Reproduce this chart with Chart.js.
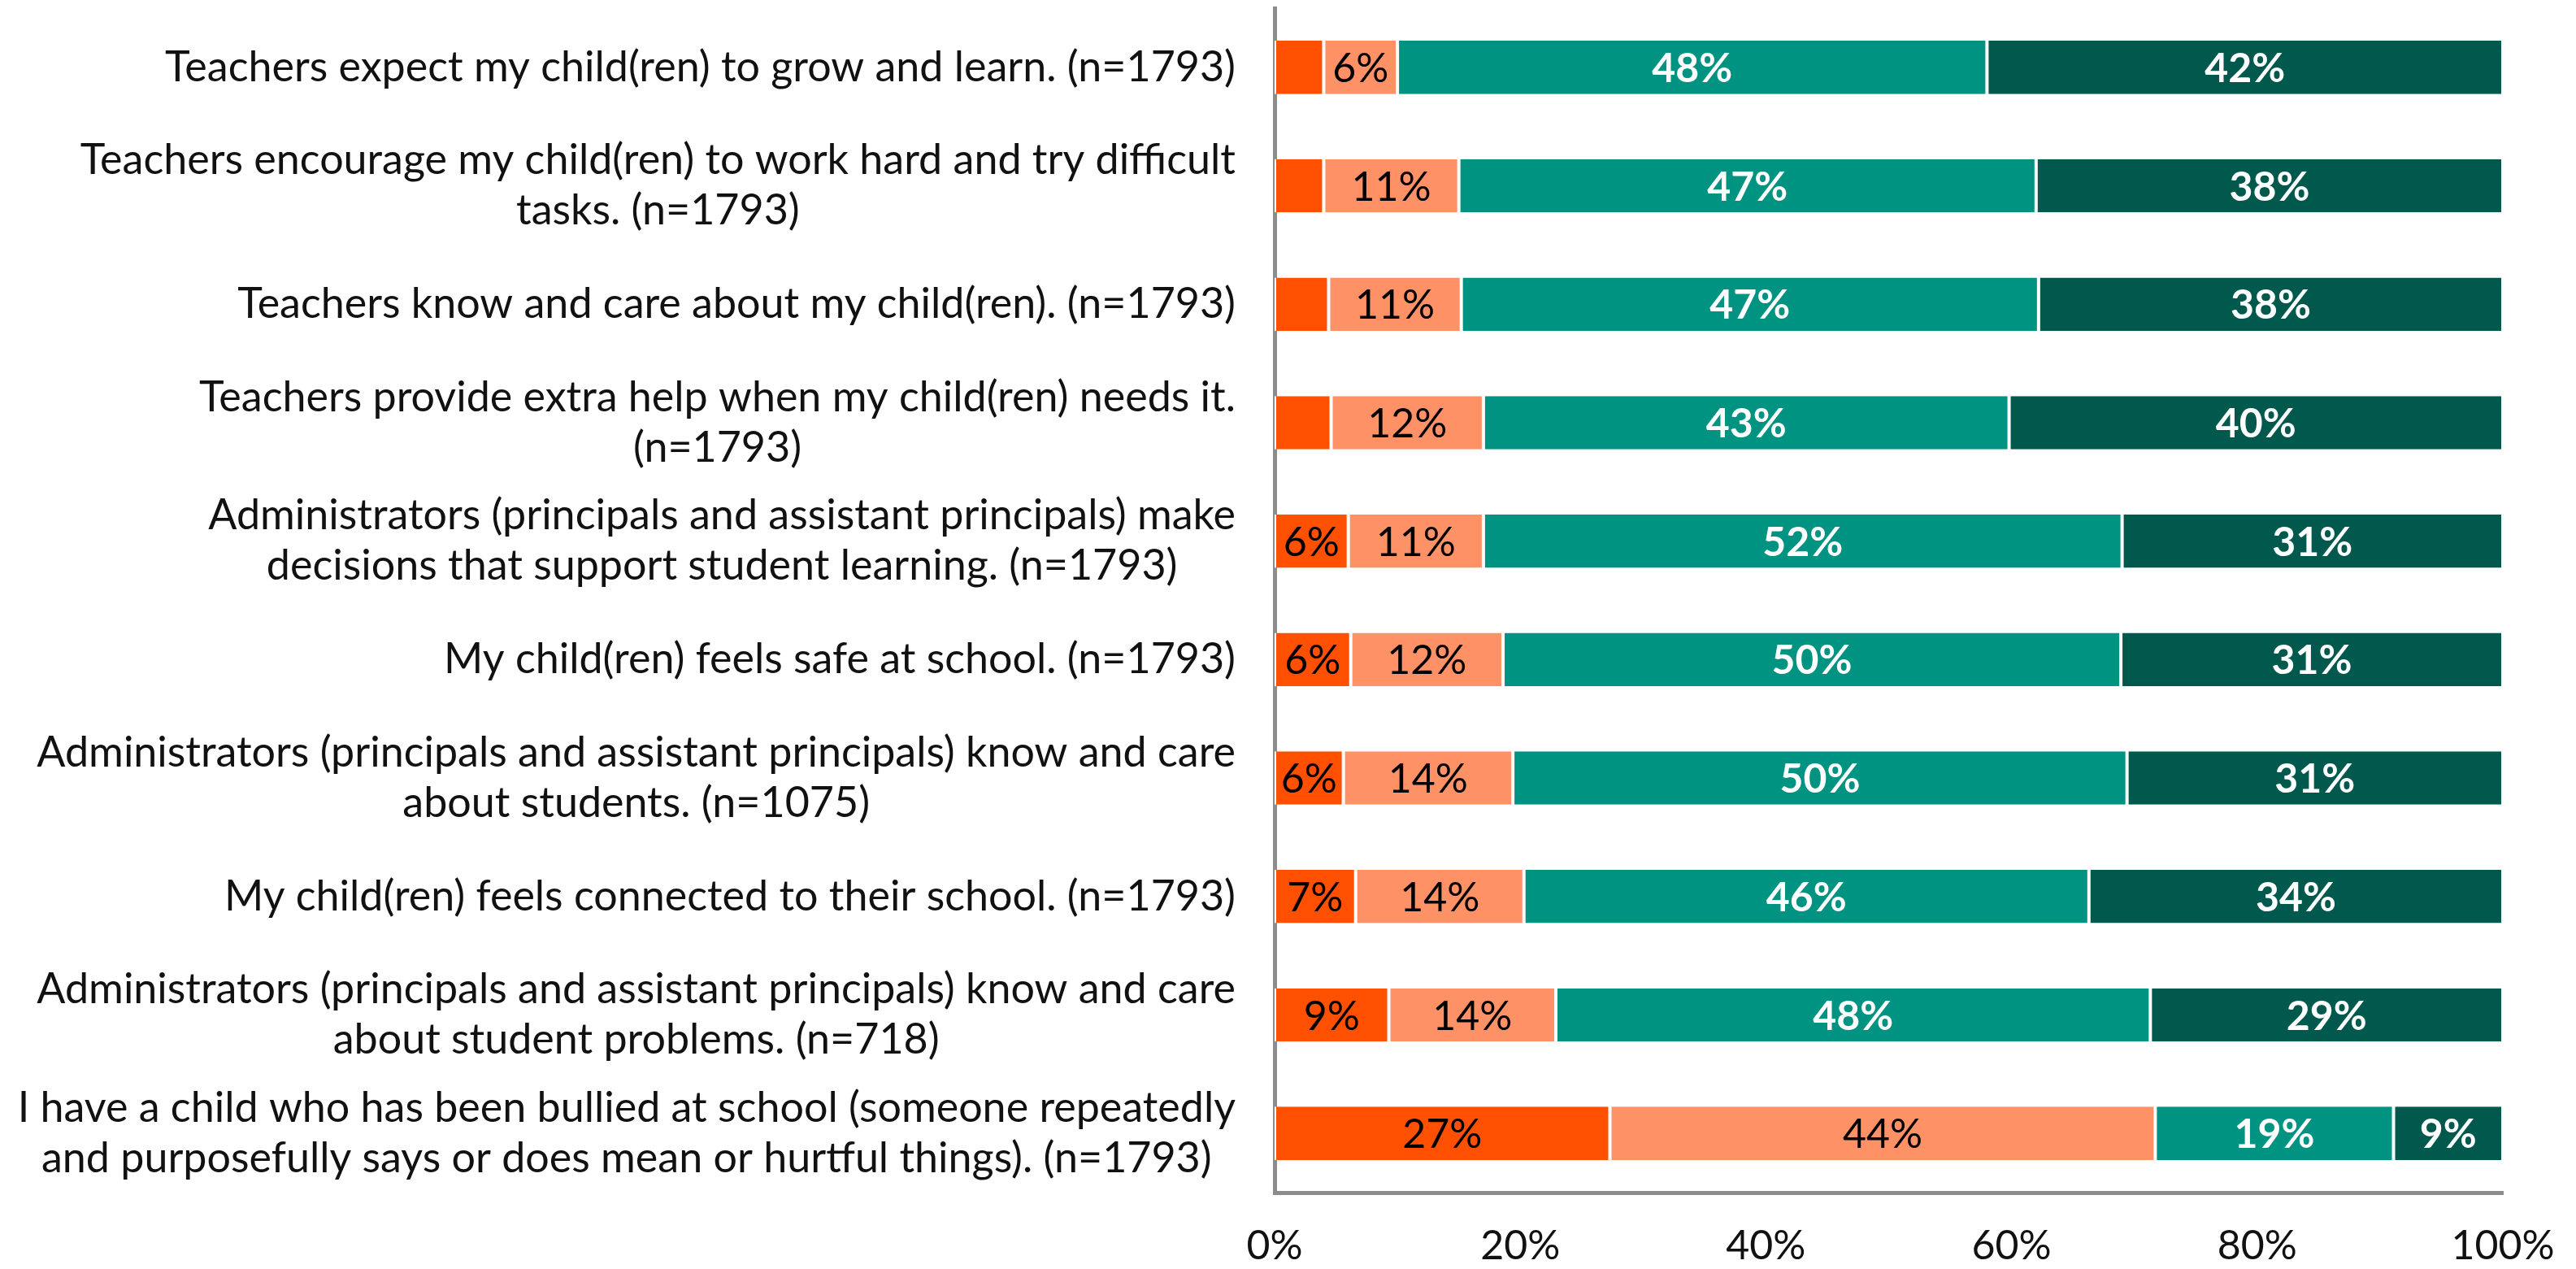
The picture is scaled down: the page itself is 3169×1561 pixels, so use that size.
<!DOCTYPE html>
<html lang="en">
<head>
    <meta charset="UTF-8">
    <title>Parent Survey Results</title>
    <script src="https://cdn.jsdelivr.net/npm/chart.js"></script>
    <style>
        body {
            margin: 0;
            background-color: #ffffff;
        }
        .chart-box {
            width: 3169px;
            height: 1561px;
            position: relative;
        }
    </style>
</head>
<body>
    <div class="chart-box">
        <canvas id="surveyChart"></canvas>
    </div>

    <script>
        const statements = [
            ['Teachers expect my child(ren) to grow and learn. (n=1793)'],
            ['Teachers encourage my child(ren) to work hard and try difficult', 'tasks. (n=1793)'],
            ['Teachers know and care about my child(ren). (n=1793)'],
            ['Teachers provide extra help when my child(ren) needs it.', '(n=1793)'],
            ['Administrators (principals and assistant principals) make', 'decisions that support student learning. (n=1793)'],
            ['My child(ren) feels safe at school. (n=1793)'],
            ['Administrators (principals and assistant principals) know and care', 'about students. (n=1075)'],
            ['My child(ren) feels connected to their school. (n=1793)'],
            ['Administrators (principals and assistant principals) know and care', 'about student problems. (n=718)'],
            ['I have a child who has been bullied at school (someone repeatedly', 'and purposefully says or does mean or hurtful things). (n=1793)']
        ];

        // percent of responses per answer level, one value per statement
        const stronglyDisagree = [4, 4, 4.4, 4.6, 6, 6.2, 5.6, 6.6, 9.3, 27.3];
        const disagree         = [6, 11, 10.8, 12.4, 11, 12.4, 13.8, 13.7, 13.6, 44.4];
        const agree            = [48, 47, 47, 42.8, 52, 50.3, 50.0, 46.0, 48.4, 19.4];
        const stronglyAgree    = [42, 38, 37.8, 40.2, 31, 31.1, 30.6, 33.7, 28.7, 8.9];

        const xTicks = [0, 20, 40, 60, 80, 100];

        const FONT = 'Lato, "Noto Sans", sans-serif';

        // value labels centred in each segment (small ones are left blank)
        const segmentLabels = {
            id: 'segmentLabels',
            afterDatasetsDraw(chart) {
                const ctx = chart.ctx;
                ctx.save();
                ctx.textBaseline = 'middle';
                ctx.textAlign = 'center';
                chart.data.datasets.forEach((ds, di) => {
                    const meta = chart.getDatasetMeta(di);
                    meta.data.forEach((bar, i) => {
                        const v = ds.data[i];
                        if (v < 5) return;
                        const p = bar.getProps(['x', 'y', 'base'], true);
                        ctx.fillStyle = ds.labelColor;
                        ctx.font = ds.labelWeight + ' 50px ' + FONT;
                        ctx.fillText(Math.round(v) + '%', (p.x + p.base) / 2, p.y + 2);
                    });
                });
                ctx.restore();
            }
        };

        // statement text, each block right-aligned with its lines centred
        const statementLabels = {
            id: 'statementLabels',
            afterDraw(chart) {
                const ctx = chart.ctx;
                const yScale = chart.scales.y;
                const right = yScale.right - 48;
                const lineHeight = 62;
                ctx.save();
                ctx.font = '52px ' + FONT;
                ctx.fillStyle = '#111111';
                ctx.textBaseline = 'middle';
                ctx.textAlign = 'center';
                statements.forEach((lines, i) => {
                    const blockWidth = Math.max(...lines.map(l => ctx.measureText(l).width));
                    const cx = right - blockWidth / 2;
                    const cy = yScale.getPixelForValue(i);
                    const top = cy - (lines.length - 1) * lineHeight / 2;
                    lines.forEach((l, j) => ctx.fillText(l, cx, top + j * lineHeight));
                });
                ctx.restore();
            }
        };

        const barStyle = {
            borderColor: '#ffffff',
            borderWidth: { left: 2, right: 2, top: 0, bottom: 0 },
            borderSkipped: false,
            barPercentage: 0.45,
            categoryPercentage: 1.0
        };

        const ctx = document.getElementById('surveyChart').getContext('2d');
        const surveyChart = new Chart(ctx, {
            type: 'bar',
            data: {
                labels: statements.map(s => s.join(' ')),
                datasets: [
                    { label: 'Strongly disagree', data: stronglyDisagree, backgroundColor: '#ff4f00', labelColor: '#000000', labelWeight: 'normal', ...barStyle },
                    { label: 'Disagree', data: disagree, backgroundColor: '#ff9166', labelColor: '#000000', labelWeight: 'normal', ...barStyle },
                    { label: 'Agree', data: agree, backgroundColor: '#009381', labelColor: '#ffffff', labelWeight: 'bold', ...barStyle },
                    { label: 'Strongly agree', data: stronglyAgree, backgroundColor: '#00594c', labelColor: '#ffffff', labelWeight: 'bold', ...barStyle }
                ]
            },
            options: {
                indexAxis: 'y',
                animation: false,
                responsive: true,
                maintainAspectRatio: false,
                layout: {
                    padding: { top: 10, right: 90, bottom: 0, left: 0 }
                },
                plugins: {
                    legend: { display: false },
                    tooltip: { enabled: false }
                },
                scales: {
                    x: {
                        stacked: true,
                        min: 0,
                        max: 100,
                        afterBuildTicks: scale => {
                            scale.ticks = xTicks.map(v => ({ value: v }));
                        },
                        afterFit: scale => {
                            scale.height = 94;
                            scale.paddingLeft = 0;
                            scale.paddingRight = 0;
                        },
                        grid: { display: false, drawTicks: false },
                        border: { display: true, color: '#8c8c8c', width: 5 },
                        ticks: {
                            padding: 36,
                            color: '#111111',
                            font: { family: FONT, size: 50 },
                            callback: v => v + '%'
                        }
                    },
                    y: {
                        stacked: true,
                        afterFit: scale => { scale.width = 1568; },
                        grid: { display: false, drawTicks: false },
                        border: { display: true, color: '#8c8c8c', width: 5 },
                        ticks: { display: false }
                    }
                }
            },
            plugins: [segmentLabels, statementLabels]
        });
    </script>
</body>
</html>
